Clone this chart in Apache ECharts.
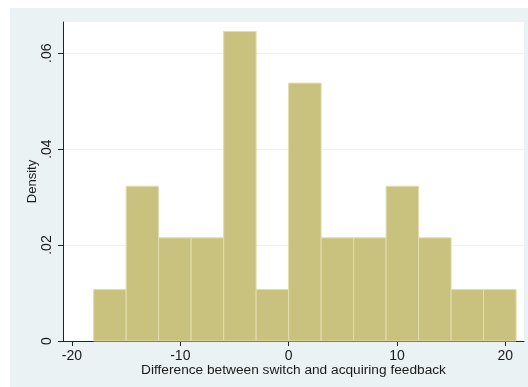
<!DOCTYPE html>
<html>
<head>
<meta charset="utf-8">
<script src="https://cdn.jsdelivr.net/npm/echarts@6/dist/echarts.min.js"></script>
<style>html,body{margin:0;padding:0;background:#fff}#c{width:528px;height:387px}</style>
</head>
<body>
<div id="c"></div>
<script>
// Histogram bins (width 3) and densities (count / (N*width), N = 31)
const binStarts = [-18, -15, -12, -9, -6, -3, 0, 3, 6, 9, 12, 15, 18];
const binWidth = 3;
const densities = [0.01075, 0.03226, 0.02151, 0.02151, 0.06452, 0.01075, 0.05376, 0.02151, 0.02151, 0.03226, 0.02151, 0.01075, 0.01075];
const xTicks = [-20, -10, 0, 10, 20];
const yTicks = [0, 0.02, 0.04, 0.06];
const yTickLabels = ['0', '.02', '.04', '.06'];

const data = binStarts.map((s, i) => [s, s + binWidth, densities[i]]);
const font = '"Liberation Sans", Arial, sans-serif';

const chart = echarts.init(document.getElementById('c'), null, {renderer: 'canvas'});
chart.setOption({
  backgroundColor: '#ffffff',
  animation: false,
  graphic: [{
    type: 'rect', left: 10, top: 8, z: -10,
    shape: {width: 518, height: 379},
    style: {fill: '#eaf2f3'}
  }],
  grid: {left: 63, top: 22, right: 4, bottom: 46, show: true, backgroundColor: '#ffffff', borderWidth: 0},
  xAxis: {
    type: 'value', min: -20.83, max: 21.73,
    name: 'Difference between switch and acquiring feedback',
    nameLocation: 'middle', nameGap: 22, nameMoveOverlap: false,
    nameTextStyle: {fontFamily: font, fontSize: 13.7, color: '#1a1a1a'},
    axisLine: {show: true, onZero: false, lineStyle: {color: '#222', width: 1}},
    axisTick: {show: true, length: 5, customValues: xTicks, lineStyle: {color: '#222'}},
    axisLabel: {customValues: xTicks, margin: 8, fontFamily: font, fontSize: 14, color: '#1a1a1a'},
    splitLine: {show: false}
  },
  yAxis: {
    type: 'value', min: 0, max: 0.0665, interval: 0.02,
    name: 'Density', nameLocation: 'middle', nameRotate: 90, nameGap: 24, nameMoveOverlap: false,
    nameTextStyle: {fontFamily: font, fontSize: 13, color: '#1a1a1a'},
    axisLine: {show: true, onZero: false, lineStyle: {color: '#222', width: 1}},
    axisTick: {show: true, length: 5, customValues: yTicks, lineStyle: {color: '#222'}},
    axisLabel: {
      customValues: yTicks, rotate: 90, margin: 9,
      fontFamily: font, fontSize: 14, color: '#1a1a1a',
      formatter: v => yTickLabels[yTicks.findIndex(t => Math.abs(t - v) < 1e-9)]
    },
    splitLine: {show: true, lineStyle: {color: '#eaf2f3', width: 1}}
  },
  series: [{
    type: 'custom',
    data: data,
    renderItem: function (params, api) {
      const p0 = api.coord([api.value(0), api.value(2)]);
      const p1 = api.coord([api.value(1), 0]);
      return {
        type: 'rect',
        shape: {x: p0[0], y: p0[1], width: p1[0] - p0[0], height: p1[1] - p0[1]},
        style: {fill: '#c9c27f', stroke: '#e2ddae', lineWidth: 1}
      };
    }
  }]
});
</script>
</body>
</html>
